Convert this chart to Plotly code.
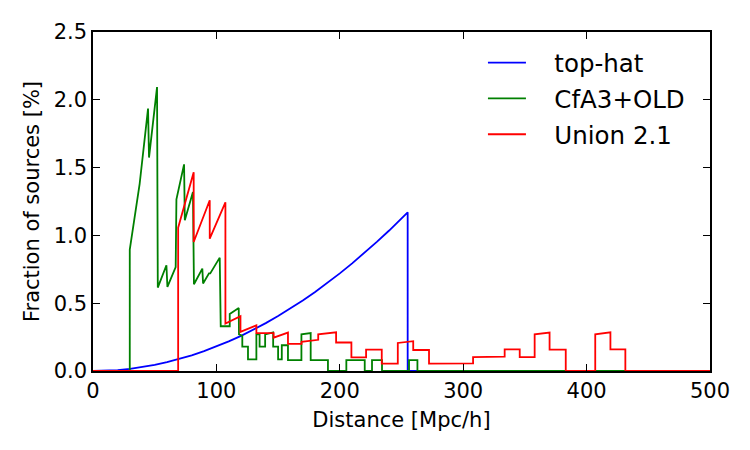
import plotly.graph_objects as go

# ---- data ----
tophat_x = [0, 10, 20, 30, 40, 50, 60, 70, 80, 90, 100, 110, 120, 130, 140, 150,
            160, 170, 180, 190, 200, 210, 220, 230, 240, 250, 255, 255, 500]
tophat_y = [0, 0.002, 0.007, 0.016, 0.029, 0.045, 0.065, 0.088, 0.115, 0.146, 0.18,
            0.218, 0.259, 0.304, 0.353, 0.405, 0.461, 0.52, 0.583, 0.65, 0.72, 0.794,
            0.871, 0.952, 1.036, 1.125, 1.17, 0, 0]

cfa_x = [0, 29.8, 29.8, 37.8, 44.6, 45.4, 51.9, 52.5, 59.5, 60.3, 67.0, 67.6, 73.8, 74.4,
         81.0, 81.8, 88.6, 89.2, 94.0, 95.0, 102.7, 103.5, 110.8, 110.8, 118.1, 118.3,
         121.0, 121.0, 125.6, 125.6, 132.4, 132.4, 135.0, 135.0, 139.5, 139.5, 146.0,
         146.0, 150.0, 150.0, 153.0, 153.0, 158.0, 158.0, 168.9, 168.9, 176.4, 176.4,
         190.4, 190.4, 205.3, 205.3, 220.2, 220.2, 226.1, 226.1, 234.2, 234.2, 256.1,
         256.1, 262.9, 262.9, 500]
cfa_y = [0, 0, 0.895, 1.38, 1.935, 1.574, 2.094, 0.615, 0.78, 0.62, 0.767, 1.266, 1.524,
         1.111, 1.32, 0.64, 0.755, 0.645, 0.72, 0.72, 0.836, 0.33, 0.33, 0.42, 0.465, 0.27,
         0.26, 0.18, 0.18, 0.085, 0.085, 0.27, 0.27, 0.18, 0.18, 0.27, 0.285, 0.18, 0.18,
         0.085, 0.085, 0.19, 0.19, 0.08, 0.08, 0.27, 0.28, 0.08, 0.08, 0, 0, 0.08, 0.08, 0,
         0, 0.08, 0.08, 0, 0, 0.08, 0.08, 0, 0]

union_x = [0, 69.0, 69.0, 81.6, 81.6, 94.6, 94.6, 107.3, 107.3, 117.5, 119.5, 119.5, 132.4,
           132.4, 146.4, 146.4, 158.0, 158.0, 169.0, 169.0, 182.5, 182.5, 197.0, 197.0,
           209.4, 209.4, 221.3, 221.3, 234.0, 234.0, 247.0, 247.0, 259.5, 259.5, 272.3,
           272.3, 308.0, 308.0, 321.5, 333.6, 333.6, 345.8, 345.8, 357.9, 357.9, 370.0,
           370.0, 383.1, 383.1, 407.0, 407.0, 419.3, 419.3, 431.4, 431.4, 500]
union_y = [0, 0, 1.057, 1.465, 0.951, 1.259, 0.976, 1.244, 0.35, 0.40, 0.405, 0.288, 0.337,
           0.28, 0.28, 0.246, 0.283, 0.2, 0.2, 0.215, 0.23, 0.27, 0.285, 0.21, 0.21, 0.10,
           0.10, 0.158, 0.158, 0.054, 0.054, 0.207, 0.22, 0.155, 0.155, 0.054, 0.056, 0.103,
           0.103, 0.106, 0.16, 0.16, 0.103, 0.103, 0.27, 0.283, 0.157, 0.157, 0, 0, 0.27,
           0.285, 0.16, 0.16, 0, 0]

x_ticks = [0, 100, 200, 300, 400, 500]
y_ticks = [0.0, 0.5, 1.0, 1.5, 2.0, 2.5]

FONT = "DejaVu Sans"
PAD = "\u00a0\u00a0\u00a0"

fig = go.Figure()
fig.add_trace(go.Scatter(x=tophat_x, y=tophat_y, mode="lines", name=PAD + "top-hat",
                         line=dict(color="#0000ff", width=1.8), legendgroup="a"))
fig.add_trace(go.Scatter(x=cfa_x, y=cfa_y, mode="lines", name=PAD + "CfA3+OLD",
                         line=dict(color="#008000", width=1.8), legendgroup="b"))
fig.add_trace(go.Scatter(x=union_x, y=union_y, mode="lines", name=PAD + "Union 2.1",
                         line=dict(color="#ff0000", width=1.8), legendgroup="c"))

axis_common = dict(showline=True, linecolor="black", linewidth=1.5, mirror="ticks",
                   ticks="inside", ticklen=7, tickwidth=1, tickcolor="black",
                   showgrid=False, zeroline=False,
                   tickfont=dict(family=FONT, size=21, color="black"))

fig.update_xaxes(range=[0, 500], tickvals=x_ticks, ticktext=[str(v) for v in x_ticks],
                 title=dict(text="Distance [Mpc/h]", font=dict(family=FONT, size=21, color="black"),
                            standoff=10),
                 **axis_common)
fig.update_yaxes(range=[0, 2.5], tickvals=y_ticks, ticktext=[f"{v:.1f}" for v in y_ticks],
                 title=dict(text="Fraction of sources [%]", font=dict(family=FONT, size=21, color="black"),
                            standoff=8),
                 **axis_common)

fig.update_layout(
    width=750, height=450,
    margin=dict(l=93, r=40, t=32, b=79),
    plot_bgcolor="white", paper_bgcolor="white",
    font=dict(family=FONT, color="black"),
    legend=dict(x=0.632, y=0.976, xanchor="left", yanchor="top",
                bgcolor="rgba(0,0,0,0)", borderwidth=0,
                font=dict(family=FONT, size=24.5, color="black"),
                traceorder="grouped", tracegroupgap=1, itemwidth=38),
)

fig.write_html("out.html")
